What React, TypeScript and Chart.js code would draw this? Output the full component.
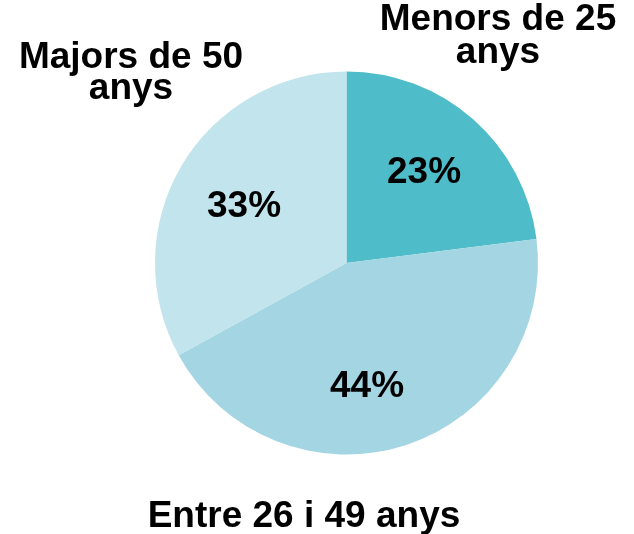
import React, { useEffect, useRef } from "react";
import { Chart, registerables } from "chart.js";

Chart.register(...registerables);

const categories = ["Menors de 25 anys", "Entre 26 i 49 anys", "Majors de 50 anys"];
const values = [23, 44, 33];
const percentLabels = ["23%", "44%", "33%"];
const colors = ["#4fbdc9", "#a3d5e3", "#c2e4ec"];

// Outer labels: text lines, centre x and baseline y for each line
const outerLabels = [
  { lines: ["Menors de 25", "anys"], x: 498, y: [30, 63] },
  { lines: ["Entre 26 i 49 anys"], x: 304, y: [527] },
  { lines: ["Majors de 50", "anys"], x: 131, y: [68, 99] },
];
const percentPos = [
  { x: 424, y: 183 },
  { x: 367, y: 397 },
  { x: 244, y: 217 },
];

const textPlugin = {
  id: "textPlugin",
  afterDatasetsDraw(chart: any) {
    const ctx = chart.ctx;
    ctx.save();
    ctx.fillStyle = "#000";
    ctx.textAlign = "center";
    ctx.textBaseline = "alphabetic";
    ctx.font = "bold 37px 'Liberation Sans', Arial, sans-serif";
    percentLabels.forEach((t, i) => {
      ctx.fillText(t, percentPos[i].x, percentPos[i].y);
    });
    outerLabels.forEach((l) => {
      l.lines.forEach((line, j) => ctx.fillText(line, l.x, l.y[j]));
    });
    ctx.restore();
  },
};

export default function App() {
  const ref = useRef<HTMLCanvasElement>(null);
  useEffect(() => {
    if (!ref.current) return;
    const chart = new Chart(ref.current, {
      type: "pie",
      data: {
        labels: categories,
        datasets: [
          {
            data: values,
            backgroundColor: colors,
            borderWidth: 0,
          },
        ],
      },
      options: {
        animation: false,
        responsive: false,
        layout: { padding: { left: 155, right: 96, top: 71, bottom: 79 } },
        plugins: {
          legend: { display: false },
          tooltip: { enabled: false },
        },
      },
      plugins: [textPlugin],
    });
    return () => chart.destroy();
  }, []);
  return (
    <div style={{ position: "fixed", left: 0, top: 0, width: 634, height: 534, background: "#fff" }}>
      <canvas ref={ref} width={634} height={534} style={{ width: 634, height: 534 }} />
    </div>
  );
}
